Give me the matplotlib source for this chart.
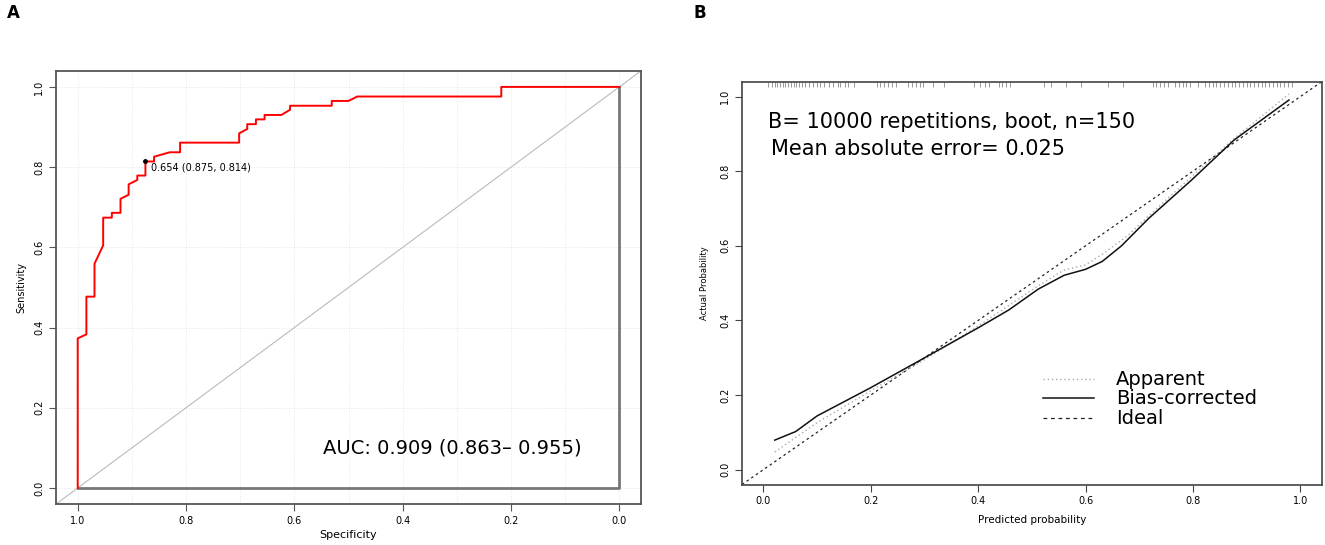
import matplotlib
matplotlib.use("Agg")
import matplotlib.pyplot as plt
import numpy as np

plt.rcParams['font.family'] = ['DejaVu Sans']

# ---- panel A: ROC curve (specificity, sensitivity vertices) ----
roc_spec = [1.0, 1.0, 0.984, 0.984, 0.969, 0.969, 0.953, 0.953, 0.937, 0.937,
            0.921, 0.921, 0.906, 0.906, 0.890, 0.890, 0.875, 0.875, 0.859, 0.859,
            0.830, 0.811, 0.811, 0.702, 0.702, 0.687, 0.687, 0.671, 0.671, 0.655,
            0.655, 0.624, 0.608, 0.608, 0.531, 0.531, 0.500, 0.484, 0.218, 0.218, 0.0]
roc_sens = [0.0, 0.373, 0.383, 0.477, 0.477, 0.559, 0.605, 0.674, 0.674, 0.686,
            0.686, 0.721, 0.731, 0.757, 0.768, 0.779, 0.779, 0.814, 0.814, 0.826,
            0.837, 0.837, 0.861, 0.861, 0.884, 0.895, 0.907, 0.907, 0.919, 0.919,
            0.930, 0.930, 0.943, 0.953, 0.953, 0.965, 0.965, 0.976, 0.976, 1.0, 1.0]
best_spec = 0.875
best_sens = 0.814
best_label = "0.654 (0.875, 0.814)"
auc_label = "AUC: 0.909 (0.863\u2013 0.955)"

# ---- panel B: calibration curves ----
bias_x = [0.021, 0.060, 0.100, 0.199, 0.298, 0.401, 0.457, 0.512, 0.560, 0.600,
          0.631, 0.667, 0.718, 0.798, 0.877, 0.979]
bias_y = [0.079, 0.102, 0.144, 0.219, 0.298, 0.381, 0.428, 0.484, 0.521, 0.537,
          0.558, 0.600, 0.674, 0.777, 0.884, 0.991]
app_x = [0.021, 0.100, 0.203, 0.298, 0.401, 0.512, 0.560, 0.600, 0.635, 0.679,
         0.734, 0.798, 0.877, 0.979]
app_y = [0.047, 0.126, 0.214, 0.293, 0.386, 0.493, 0.535, 0.549, 0.581, 0.628,
         0.702, 0.786, 0.888, 1.007]
rug_pred = [0.008, 0.015, 0.022, 0.026, 0.031, 0.036, 0.041, 0.046, 0.052, 0.057,
            0.060, 0.066, 0.071, 0.078, 0.085, 0.092, 0.099, 0.106, 0.113, 0.123,
            0.130, 0.139, 0.143, 0.151, 0.158, 0.169, 0.211, 0.218, 0.225, 0.232,
            0.239, 0.246, 0.270, 0.277, 0.284, 0.291, 0.298, 0.316, 0.337, 0.392,
            0.403, 0.413, 0.420, 0.438, 0.445, 0.452, 0.459, 0.522, 0.536, 0.564,
            0.592, 0.641, 0.669, 0.725, 0.732, 0.739, 0.746, 0.753, 0.767, 0.774,
            0.781, 0.788, 0.795, 0.809, 0.823, 0.830, 0.837, 0.844, 0.851, 0.858,
            0.865, 0.872, 0.879, 0.886, 0.893, 0.900, 0.907, 0.914, 0.921, 0.928,
            0.935, 0.942, 0.949, 0.956, 0.963, 0.970, 0.977, 0.984]
text_b1 = "B= 10000 repetitions, boot, n=150"
text_b2 = "Mean absolute error= 0.025"
legend_labels = ["Apparent", "Bias-corrected", "Ideal"]

ticks = [0.0, 0.2, 0.4, 0.6, 0.8, 1.0]
tick_labels = ["0.0", "0.2", "0.4", "0.6", "0.8", "1.0"]

fig = plt.figure(figsize=(13.25, 5.45), dpi=100)

# ================= Panel A =================
axA = fig.add_axes([0.0423, 0.0752, 0.4415, 0.7948])
axA.set_xlim(1.04, -0.04)
axA.set_ylim(-0.04, 1.04)

# pROC-style grid: 0.1 on x, 0.2 on y
for g in np.arange(0, 1.01, 0.1):
    axA.axvline(g, color='#dddddd', lw=0.6, ls=(0, (1, 2)), zorder=0)
for g in ticks:
    axA.axhline(g, color='#dddddd', lw=0.6, ls=(0, (1, 2)), zorder=0)

axA.axline((1, 0), (0, 1), color='#bbbbbb', lw=0.8, zorder=1)
axA.plot([1, 0, 0], [0, 0, 1], color='#777777', lw=2, zorder=1)
axA.plot(roc_spec, roc_sens, color='red', lw=1.4, zorder=3)
axA.plot([best_spec], [best_sens], 'o', color='black', ms=2.5, zorder=4)
axA.text(0.865, 0.800, best_label, fontsize=7, va='center', ha='left')
axA.text(0.548, 0.0995, auc_label, fontsize=14, va='center', ha='left')

axA.set_xticks(ticks)
axA.set_xticklabels(tick_labels)
axA.set_yticks(ticks)
axA.set_yticklabels(tick_labels, rotation=90, va='center')
axA.tick_params(labelsize=7, length=5, color='#555555')
axA.set_xlabel("Specificity", fontsize=8, labelpad=3)
axA.set_ylabel("Sensitivity", fontsize=7, labelpad=6)
for s in axA.spines.values():
    s.set_color('#555555')
    s.set_linewidth(1.3)

# ================= Panel B =================
axB = fig.add_axes([0.560, 0.111, 0.4375, 0.739])
axB.set_xlim(-0.04, 1.04)
axB.set_ylim(-0.04, 1.04)

axB.vlines(rug_pred, 1.026, 1.04, color='#999999', lw=0.7)
axB.axline((0, 0), slope=1, color='#222222', lw=0.9, ls=(0, (2, 2.5)))
axB.plot(app_x, app_y, color='#aaaaaa', lw=1.0, ls=(0, (1, 2)))
axB.plot(bias_x, bias_y, color='#111111', lw=1.1)

axB.text(0.009, 0.931, text_b1, fontsize=15, va='center', ha='left')
axB.text(0.014, 0.859, text_b2, fontsize=15, va='center', ha='left')

# legend drawn R-style in data coordinates
leg_y = [0.242, 0.191, 0.137]
leg_styles = [dict(color='#aaaaaa', lw=1.0, ls=(0, (1, 2))),
              dict(color='#111111', lw=1.1, ls='-'),
              dict(color='#222222', lw=0.9, ls=(0, (3, 3)))]
for yy, lab, st in zip(leg_y, legend_labels, leg_styles):
    axB.plot([0.52, 0.616], [yy, yy], **st)
    axB.text(0.657, yy, lab, fontsize=14, va='center', ha='left')

axB.set_xticks(ticks)
axB.set_xticklabels(tick_labels)
axB.set_yticks(ticks)
axB.set_yticklabels(tick_labels, rotation=90, va='center')
axB.tick_params(labelsize=7, length=5, color='#444444')
axB.set_xlabel("Predicted probability", fontsize=7.5, labelpad=6)
axB.set_ylabel("Actual Probability", fontsize=6, labelpad=8)
for s in axB.spines.values():
    s.set_color('#444444')
    s.set_linewidth(1.2)

fig.text(0.0098, 0.976, "A", fontsize=12, fontweight='bold', va='center', ha='center')
fig.text(0.528, 0.976, "B", fontsize=12, fontweight='bold', va='center', ha='center')

fig.savefig("out.png", dpi=100)
